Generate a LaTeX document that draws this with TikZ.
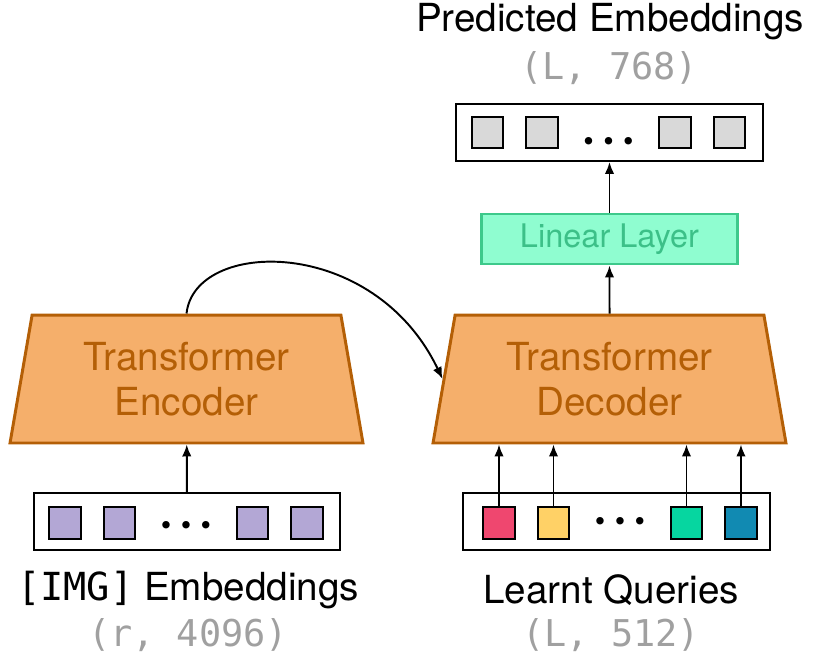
\documentclass[tikz,border=0pt]{standalone}
\usepackage{fontspec}
\setmainfont{TeX Gyre Heros}
\newfontfamily\codefont{DejaVu Sans Mono}
\usepackage{tikz}
\usetikzlibrary{arrows.meta,positioning,shapes.geometric}
\definecolor{encfill}{HTML}{F5AF6B}
\definecolor{encline}{HTML}{B45F06}
\definecolor{linfill}{HTML}{8FFDD0}
\definecolor{linline}{HTML}{3DC98B}
\definecolor{lintext}{HTML}{3CC088}
\definecolor{tokpurple}{HTML}{B3A7D5}
\definecolor{tokgray}{HTML}{D9D9D9}
\definecolor{tokpink}{HTML}{EF476F}
\definecolor{tokyellow}{HTML}{FFD166}
\definecolor{tokgreen}{HTML}{06D6A0}
\definecolor{tokblue}{HTML}{118AB2}
\definecolor{dimgray}{HTML}{A0A0A0}

\newcommand{\tokdots}{\textbullet\hspace{1.9mm}\textbullet\hspace{1.9mm}\textbullet}

\begin{document}
\begin{tikzpicture}[x=0.02cm,y=-0.02cm,node distance=4.6mm,>=Latex]

\tikzset{
tf/.style={
    trapezium,
    trapezium angle=75.5,
    trapezium stretches body=true,
    draw=encline,
    line width=1.7pt,
    fill=encfill,
    text=encline,
    minimum width=70.6mm,
    minimum height=25.6mm,
    align=center,
    font=\fontsize{22}{25.5}\selectfont
},
lin/.style={
    draw=linline,
    line width=1.7pt,
    fill=linfill,
    text=lintext,
    minimum width=51.4mm,
    minimum height=10mm,
    font=\fontsize{18.5}{22}\selectfont
},
vec/.style={draw,line width=1.1pt,minimum width=61.3mm,minimum height=11.4mm,inner sep=0pt},
tok/.style={draw,line width=1.1pt,minimum size=6.3mm,inner sep=0pt,outer sep=0pt},
gap/.style={inner sep=0pt,outer sep=0pt,minimum width=20.3mm,text height=0pt,text depth=0pt,font=\fontsize{17}{17}\selectfont},
ttl/.style={font=\fontsize{22}{26}\selectfont,inner sep=0pt},
dim/.style={font=\fontsize{21}{25}\selectfont\codefont,text=dimgray,inner sep=0pt},
a/.style={->,line width=1.1pt,>={Latex[length=2.4mm,width=1.9mm]}}
}

\useasboundingbox (0,0) rectangle (830,662);

% encoder side
\node[tf] (enc) at (186.5,379) {Transformer\\Encoder};
\node[vec] (invec) at (187,521.5) {};
\node[tok,fill=tokpurple] (i1) at (65,523) {};
\node[tok,fill=tokpurple,right=of i1] (i2) {};
\node[gap,right=0mm of i2,yshift=-2.4mm] (idots) {\tokdots};
\node[tok,fill=tokpurple,right=0mm of idots,yshift=2.4mm] (i3) {};
\node[tok,fill=tokpurple,right=of i3] (i4) {};
\node[ttl] (inlbl) at (188,590) {{\codefont[IMG]} Embeddings};
\node[dim] (indim) at (188,635) {(r, 4096)};

% decoder side
\node[tf] (dec) at (609.5,379) {Transformer\\Decoder};
\node[vec] (qvec) at (616.5,521.5) {};
\node[tok,fill=tokpink] (q1) at (499,523) {};
\node[tok,fill=tokyellow,right=of q1] (q2) {};
\node[gap,right=0mm of q2,yshift=-1.74mm] (qdots) {\tokdots};
\node[tok,fill=tokgreen,right=0mm of qdots,yshift=1.74mm] (q3) {};
\node[tok,fill=tokblue,right=of q3] (q4) {};
\node[ttl] (qlbl) at (611,590) {Learnt Queries};
\node[dim] (qdim) at (611,635) {(L, 512)};

% output
\node[lin] (linear) at (609.5,239) {Linear Layer};
\node[vec] (outvec) at (609.5,132.5) {};
\node[tok,fill=tokgray] (o1) at (487.5,132.5) {};
\node[tok,fill=tokgray,right=of o1] (o2) {};
\node[gap,right=0mm of o2,yshift=-3.84mm] (odots) {\tokdots};
\node[tok,fill=tokgray,right=0mm of odots,yshift=3.84mm] (o3) {};
\node[tok,fill=tokgray,right=of o3] (o4) {};
\node[ttl] (outlbl) at (610,22) {Predicted Embeddings};
\node[dim] (outdim) at (609,68) {(L, 768)};

\draw[a] (invec) -- (enc);
\draw[a] (q1.north) -- (q1.north |- dec.south);
\draw[a] (q2.north) -- (q2.north |- dec.south);
\draw[a] (q3.north) -- (q3.north |- dec.south);
\draw[a] (q4.north) -- (q4.north |- dec.south);
\draw[a] (dec) -- (linear);
\draw[a] (linear) -- (outvec);
\draw[a] (enc.north) .. controls +(8,-75) and +(-69,-144) .. (dec.west);

\end{tikzpicture}
\end{document}
